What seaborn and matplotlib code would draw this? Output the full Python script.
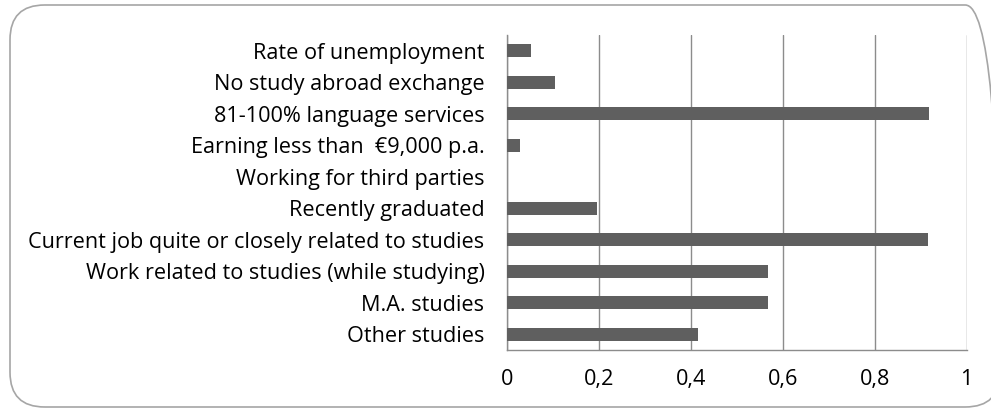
import matplotlib
matplotlib.use("Agg")
import matplotlib.pyplot as plt
from matplotlib.patches import FancyBboxPatch
from matplotlib.ticker import FixedLocator, FuncFormatter
import pandas as pd
import seaborn as sns

# data
categories = [
    "Rate of unemployment",
    "No study abroad exchange",
    "81-100% language services",
    "Earning less than  \u20ac9,000 p.a.",
    "Working for third parties",
    "Recently graduated",
    "Current job quite or closely related to studies",
    "Work related to studies (while studying)",
    "M.A. studies",
    "Other studies",
]
values = [0.053, 0.104, 0.918, 0.030, 0.0, 0.197, 0.915, 0.569, 0.569, 0.416]
x_ticks = [0, 0.2, 0.4, 0.6, 0.8, 1.0]

df = pd.DataFrame({"category": categories, "value": values})

sns.set_style("white")
plt.rcParams["font.family"] = ["Open Sans", "DejaVu Sans"]

fig = plt.figure(figsize=(9.91, 4.11), dpi=100)
ax = fig.add_axes([0.5113, 0.1484, 0.4642, 0.7664])

# rounded frame round the whole chart
frame = FancyBboxPatch((10 / 991, 4 / 411), 990 / 991, 402 / 411,
                       boxstyle="round,pad=0,rounding_size=0.035",
                       transform=fig.transFigure, facecolor="none",
                       edgecolor="#a6a6a6", linewidth=1.2, mutation_aspect=991 / 411)
fig.patches.append(frame)

sns.barplot(data=df, x="value", y="category", color="#5f5f5f", width=0.4,
            saturation=1, linewidth=0, ax=ax, zorder=3)

ax.set_xlim(0, 1)
ax.set_ylim(9.5, -0.5)
ax.set_xlabel("")
ax.set_ylabel("")

ax.xaxis.set_major_locator(FixedLocator(x_ticks))
ax.xaxis.set_major_formatter(FuncFormatter(lambda v, p: ("%g" % round(v, 1)).replace(".", ",")))
ax.grid(axis="x", color="#8c8c8c", linewidth=1, zorder=0)
ax.set_axisbelow(True)

ax.yaxis.set_minor_locator(FixedLocator([i - 0.5 for i in range(11)]))
ax.tick_params(axis="y", which="major", length=0, pad=16, labelsize=15.6, colors="black")
ax.tick_params(axis="y", which="minor", length=5, color="#8c8c8c", width=1)
ax.tick_params(axis="x", which="major", length=7, color="#8c8c8c", width=1,
               pad=7, labelsize=15.6, labelcolor="black", direction="out")

for side in ["top", "right"]:
    ax.spines[side].set_visible(False)
for side in ["left", "bottom"]:
    ax.spines[side].set_color("#8c8c8c")
    ax.spines[side].set_linewidth(1)

plt.savefig("out.png", dpi=100)
